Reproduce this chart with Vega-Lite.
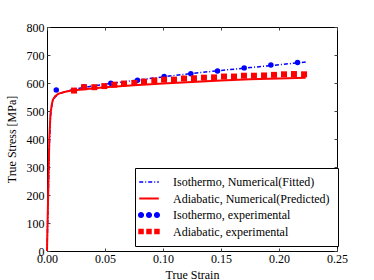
{
  "$schema": "https://vega.github.io/schema/vega-lite/v6.json",
  "autosize": {"type": "none"},
  "width": 290,
  "height": 224,
  "padding": {"left": 47, "top": 27, "right": 37, "bottom": 29},
  "background": "white",
  "config": {
    "font": "Liberation Serif",
    "view": {"stroke": "black", "strokeWidth": 1},
    "axis": {
      "grid": false,
      "domain": false,
      "tickColor": "#444",
      "tickSize": -3,
      "labelFlush": false,
      "labelOverlap": false,
      "labelFont": "Liberation Serif",
      "labelFontSize": 12,
      "labelColor": "black",
      "titleFont": "Liberation Serif",
      "titleFontSize": 12,
      "titleFontWeight": "normal",
      "titleColor": "black"
    },
    "legend": {
      "labelFont": "Liberation Serif",
      "labelFontSize": 12,
      "labelColor": "black"
    }
  },
  "data": {
    "values": [
      {"series": "Isothermo, Numerical(Fitted)", "strain": 0, "stress": 0},
      {"series": "Isothermo, Numerical(Fitted)", "strain": 0.001, "stress": 180},
      {"series": "Isothermo, Numerical(Fitted)", "strain": 0.002, "stress": 370},
      {"series": "Isothermo, Numerical(Fitted)", "strain": 0.003, "stress": 480},
      {"series": "Isothermo, Numerical(Fitted)", "strain": 0.004, "stress": 515},
      {"series": "Isothermo, Numerical(Fitted)", "strain": 0.005, "stress": 535},
      {"series": "Isothermo, Numerical(Fitted)", "strain": 0.007, "stress": 550},
      {"series": "Isothermo, Numerical(Fitted)", "strain": 0.01, "stress": 561},
      {"series": "Isothermo, Numerical(Fitted)", "strain": 0.015, "stress": 568},
      {"series": "Isothermo, Numerical(Fitted)", "strain": 0.02, "stress": 574},
      {"series": "Isothermo, Numerical(Fitted)", "strain": 0.03, "stress": 583},
      {"series": "Isothermo, Numerical(Fitted)", "strain": 0.05, "stress": 596},
      {"series": "Isothermo, Numerical(Fitted)", "strain": 0.075, "stress": 609},
      {"series": "Isothermo, Numerical(Fitted)", "strain": 0.1, "stress": 622},
      {"series": "Isothermo, Numerical(Fitted)", "strain": 0.125, "stress": 634},
      {"series": "Isothermo, Numerical(Fitted)", "strain": 0.15, "stress": 645},
      {"series": "Isothermo, Numerical(Fitted)", "strain": 0.175, "stress": 655},
      {"series": "Isothermo, Numerical(Fitted)", "strain": 0.2, "stress": 665},
      {"series": "Isothermo, Numerical(Fitted)", "strain": 0.223, "stress": 675},
      {"series": "Adiabatic, Numerical(Predicted)", "strain": 0, "stress": 0},
      {"series": "Adiabatic, Numerical(Predicted)", "strain": 0.001, "stress": 200},
      {"series": "Adiabatic, Numerical(Predicted)", "strain": 0.002, "stress": 400},
      {"series": "Adiabatic, Numerical(Predicted)", "strain": 0.003, "stress": 490},
      {"series": "Adiabatic, Numerical(Predicted)", "strain": 0.004, "stress": 520},
      {"series": "Adiabatic, Numerical(Predicted)", "strain": 0.005, "stress": 540},
      {"series": "Adiabatic, Numerical(Predicted)", "strain": 0.007, "stress": 553},
      {"series": "Adiabatic, Numerical(Predicted)", "strain": 0.01, "stress": 562},
      {"series": "Adiabatic, Numerical(Predicted)", "strain": 0.015, "stress": 568},
      {"series": "Adiabatic, Numerical(Predicted)", "strain": 0.02, "stress": 572},
      {"series": "Adiabatic, Numerical(Predicted)", "strain": 0.03, "stress": 577},
      {"series": "Adiabatic, Numerical(Predicted)", "strain": 0.05, "stress": 585},
      {"series": "Adiabatic, Numerical(Predicted)", "strain": 0.075, "stress": 592},
      {"series": "Adiabatic, Numerical(Predicted)", "strain": 0.1, "stress": 598},
      {"series": "Adiabatic, Numerical(Predicted)", "strain": 0.125, "stress": 604},
      {"series": "Adiabatic, Numerical(Predicted)", "strain": 0.15, "stress": 609},
      {"series": "Adiabatic, Numerical(Predicted)", "strain": 0.175, "stress": 613},
      {"series": "Adiabatic, Numerical(Predicted)", "strain": 0.2, "stress": 616},
      {"series": "Adiabatic, Numerical(Predicted)", "strain": 0.223, "stress": 619},
      {"series": "Isothermo, experimental", "strain": 0.008, "stress": 575},
      {"series": "Isothermo, experimental", "strain": 0.032, "stress": 587},
      {"series": "Isothermo, experimental", "strain": 0.055, "stress": 599},
      {"series": "Isothermo, experimental", "strain": 0.078, "stress": 610},
      {"series": "Isothermo, experimental", "strain": 0.101, "stress": 623},
      {"series": "Isothermo, experimental", "strain": 0.124, "stress": 633},
      {"series": "Isothermo, experimental", "strain": 0.147, "stress": 643},
      {"series": "Isothermo, experimental", "strain": 0.17, "stress": 654},
      {"series": "Isothermo, experimental", "strain": 0.193, "stress": 664},
      {"series": "Isothermo, experimental", "strain": 0.216, "stress": 673},
      {"series": "Adiabatic, experimental", "strain": 0.0233, "stress": 573},
      {"series": "Adiabatic, experimental", "strain": 0.0319, "stress": 585},
      {"series": "Adiabatic, experimental", "strain": 0.0408, "stress": 585},
      {"series": "Adiabatic, experimental", "strain": 0.0494, "stress": 589},
      {"series": "Adiabatic, experimental", "strain": 0.058, "stress": 594},
      {"series": "Adiabatic, experimental", "strain": 0.0664, "stress": 598},
      {"series": "Adiabatic, experimental", "strain": 0.0753, "stress": 600},
      {"series": "Adiabatic, experimental", "strain": 0.0836, "stress": 605},
      {"series": "Adiabatic, experimental", "strain": 0.0925, "stress": 609},
      {"series": "Adiabatic, experimental", "strain": 0.1009, "stress": 612},
      {"series": "Adiabatic, experimental", "strain": 0.1095, "stress": 612},
      {"series": "Adiabatic, experimental", "strain": 0.1181, "stress": 616},
      {"series": "Adiabatic, experimental", "strain": 0.1267, "stress": 617},
      {"series": "Adiabatic, experimental", "strain": 0.1353, "stress": 619},
      {"series": "Adiabatic, experimental", "strain": 0.144, "stress": 620},
      {"series": "Adiabatic, experimental", "strain": 0.1526, "stress": 623},
      {"series": "Adiabatic, experimental", "strain": 0.1612, "stress": 623},
      {"series": "Adiabatic, experimental", "strain": 0.1698, "stress": 626},
      {"series": "Adiabatic, experimental", "strain": 0.1784, "stress": 626},
      {"series": "Adiabatic, experimental", "strain": 0.1871, "stress": 627},
      {"series": "Adiabatic, experimental", "strain": 0.1957, "stress": 629},
      {"series": "Adiabatic, experimental", "strain": 0.2043, "stress": 631},
      {"series": "Adiabatic, experimental", "strain": 0.2129, "stress": 632},
      {"series": "Adiabatic, experimental", "strain": 0.2216, "stress": 631}
    ]
  },
  "layer": [
    {
      "transform": [{"filter": "datum.series == 'Isothermo, Numerical(Fitted)'"}],
      "mark": {"type": "line", "strokeDash": [4, 2, 1, 2], "strokeWidth": 1.5},
      "encoding": {
        "x": {"field": "strain", "type": "quantitative", "scale": {"domain": [0, 0.25], "nice": false},
          "axis": {"orient": "bottom", "values": [0, 0.05, 0.1, 0.15, 0.2, 0.25], "format": ".2f", "title": "True Strain", "labelPadding": 5, "titlePadding": 5}},
        "y": {"field": "stress", "type": "quantitative", "scale": {"domain": [0, 800], "nice": false},
          "axis": {"orient": "left", "values": [0, 100, 200, 300, 400, 500, 600, 700, 800], "title": "True Stress [MPa]", "labelPadding": 6, "titlePadding": 8}},
        "color": {"field": "series", "type": "nominal",
          "scale": {"domain": ["Isothermo, Numerical(Fitted)", "Adiabatic, Numerical(Predicted)", "Isothermo, experimental", "Adiabatic, experimental"], "range": ["blue", "red", "blue", "red"]},
          "legend": {
            "title": null,
            "orient": "none",
            "legendX": 88,
            "legendY": 141,
            "strokeColor": "black",
            "fillColor": "white",
            "padding": 8,
            "rowPadding": 4.5,
            "labelOffset": 18,
            "symbolType": "stroke",
            "symbolSize": 150,
            "encode": {
              "symbols": {
                "update": {
                  "shape": {"signal": "datum.value == 'Isothermo, experimental' ? 'M -1.8,0 A 0.5,0.5 0 1,0 -0.8,0 A 0.5,0.5 0 1,0 -1.8,0 Z M -0.5,0 A 0.5,0.5 0 1,0 0.5,0 A 0.5,0.5 0 1,0 -0.5,0 Z M 0.8,0 A 0.5,0.5 0 1,0 1.8,0 A 0.5,0.5 0 1,0 0.8,0 Z' : (datum.value == 'Adiabatic, experimental' ? 'M -1.75,-0.45 H -0.85 V 0.45 H -1.75 Z M -0.45,-0.45 H 0.45 V 0.45 H -0.45 Z M 0.85,-0.45 H 1.75 V 0.45 H 0.85 Z' : 'M -1.6,0 H 1.6')"},
                  "strokeDash": {"signal": "datum.value == 'Isothermo, Numerical(Fitted)' ? [4, 2, 1, 2] : [1, 0]"},
                  "fill": {"signal": "datum.value == 'Isothermo, experimental' ? 'blue' : (datum.value == 'Adiabatic, experimental' ? 'red' : 'transparent')"},
                  "strokeWidth": {"signal": "datum.value == 'Adiabatic, Numerical(Predicted)' ? 2 : (datum.value == 'Isothermo, Numerical(Fitted)' ? 1.5 : 0)"}
                }
              }
            }
          }}
      }
    },
    {
      "transform": [{"filter": "datum.series == 'Adiabatic, Numerical(Predicted)'"}],
      "mark": {"type": "line", "strokeWidth": 2},
      "encoding": {
        "x": {"field": "strain", "type": "quantitative", "axis": null},
        "y": {"field": "stress", "type": "quantitative", "axis": null},
        "color": {"field": "series", "type": "nominal"}
      }
    },
    {
      "transform": [{"filter": "indexof(datum.series, 'experimental') >= 0"}],
      "mark": {"type": "point", "filled": true, "opacity": 1},
      "encoding": {
        "x": {"field": "strain", "type": "quantitative",
          "axis": {"orient": "top", "values": [0, 0.05, 0.1, 0.15, 0.2, 0.25], "labels": false, "title": null}},
        "y": {"field": "stress", "type": "quantitative",
          "axis": {"orient": "right", "values": [0, 100, 200, 300, 400, 500, 600, 700, 800], "labels": false, "title": null}},
        "color": {"field": "series", "type": "nominal"},
        "shape": {"field": "series", "type": "nominal",
          "scale": {"domain": ["Isothermo, experimental", "Adiabatic, experimental"], "range": ["circle", "square"]},
          "legend": null},
        "size": {"field": "series", "type": "nominal",
          "scale": {"domain": ["Isothermo, experimental", "Adiabatic, experimental"], "range": [30, 36]},
          "legend": null}
      }
    }
  ],
  "resolve": {"axis": {"x": "independent", "y": "independent"}}
}
